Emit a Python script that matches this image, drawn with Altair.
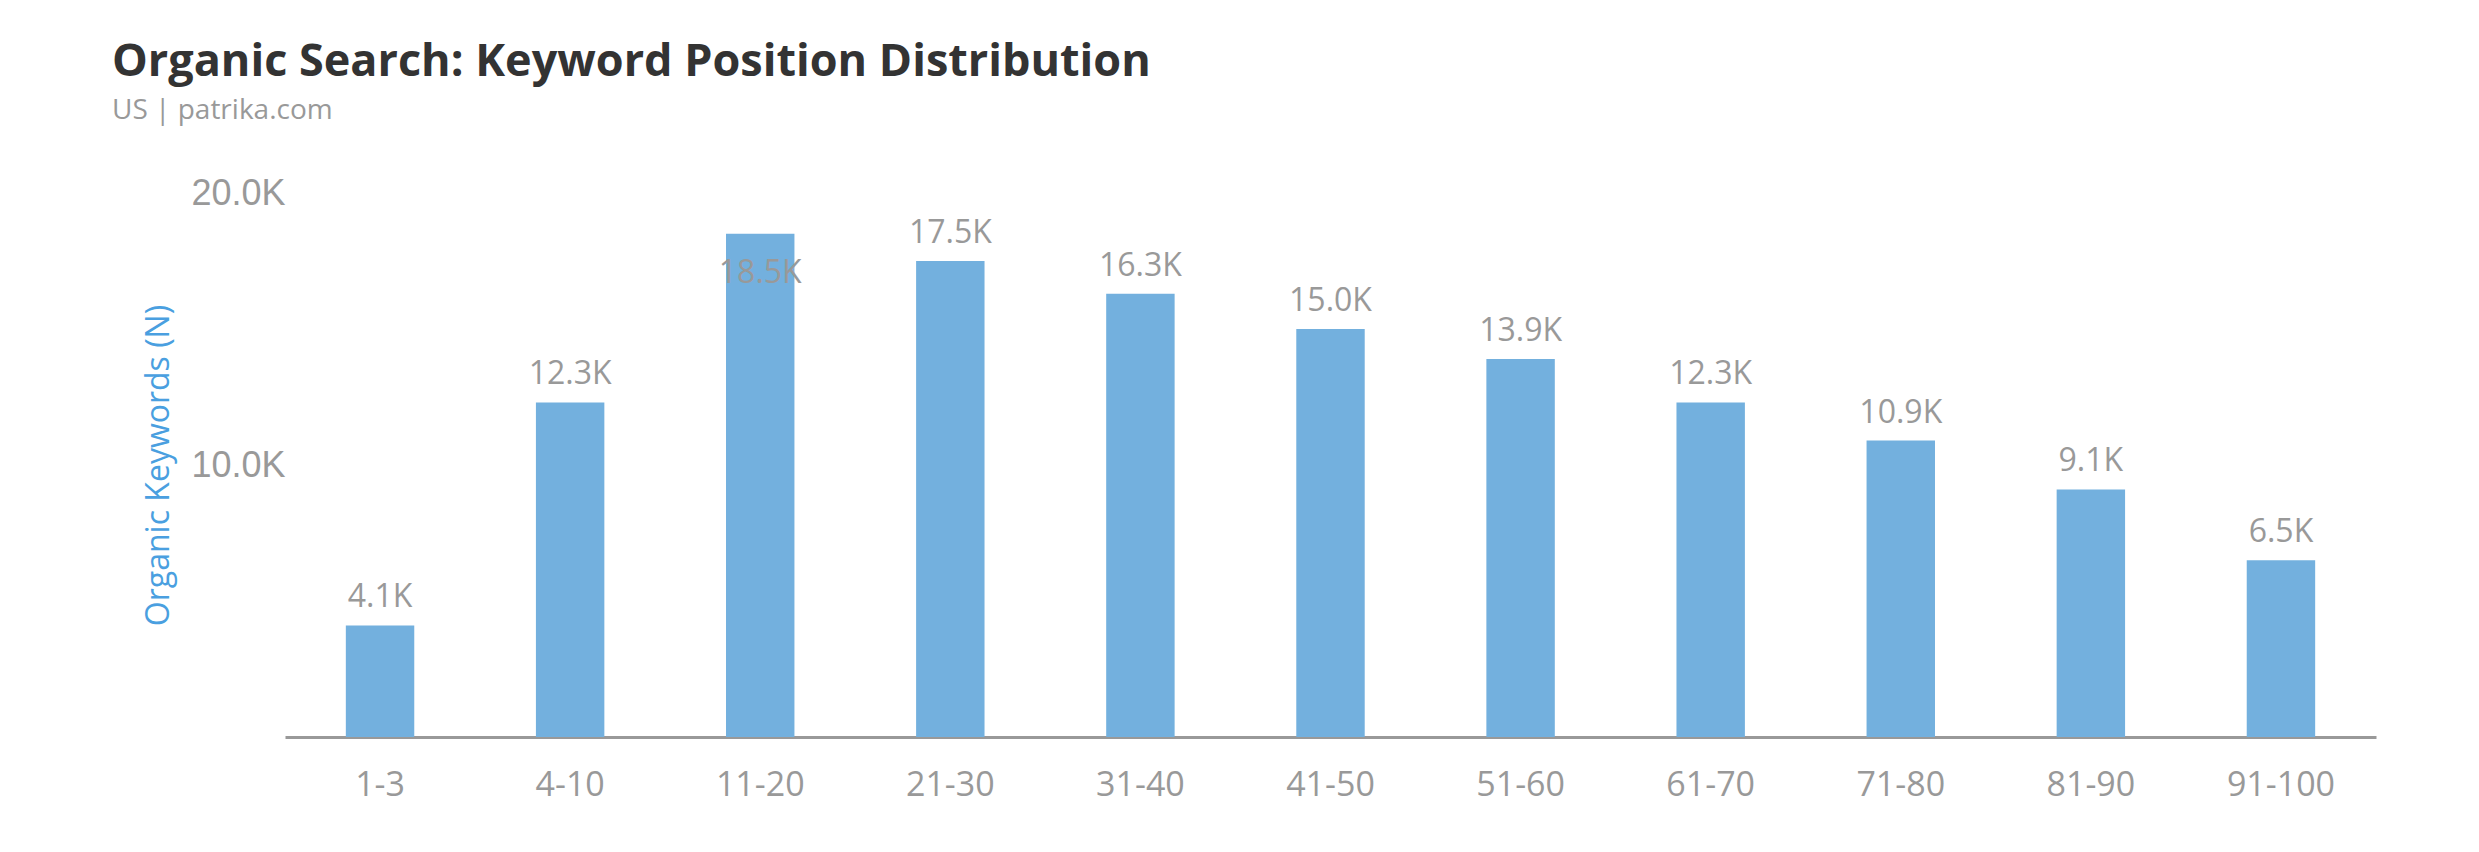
import altair as alt
import pandas as pd

positions = ["1-3", "4-10", "11-20", "21-30", "31-40", "41-50", "51-60", "61-70", "71-80", "81-90", "91-100"]
keywords = [4100, 12300, 18500, 17500, 16300, 15000, 13900, 12300, 10900, 9100, 6500]
y_ticks = [10000, 20000]

df = pd.DataFrame({"position": positions, "keywords": keywords})

GRAY = "#999999"

base = alt.Chart(df).transform_calculate(
    label="format(datum.keywords / 1000, '.1f') + 'K'"
)

x_enc = alt.X(
    "position:N",
    sort=positions,
    title=None,
    scale=alt.Scale(paddingInner=0.64, paddingOuter=0.32),
    axis=alt.Axis(
        labelAngle=0,
        labelFont="Open Sans",
        labelFontSize=34,
        labelColor=GRAY,
        labelPadding=31,
        ticks=False,
        domainColor=GRAY,
        domainWidth=3,
        grid=False,
    ),
)

y_enc = alt.Y(
    "keywords:Q",
    title="Organic Keywords (N)",
    scale=alt.Scale(domain=[0, 20000], nice=False),
    axis=alt.Axis(
        values=y_ticks,
        labelExpr="format(datum.value / 1000, '.1f') + 'K'",
        labelFont="Liberation Sans",
        labelFontSize=36,
        labelColor=GRAY,
        labelPadding=0,
        ticks=False,
        domain=False,
        grid=False,
        titleFont="Open Sans",
        titleFontSize=32,
        titleFontWeight="normal",
        titleColor="#4a9fe0",
        titlePadding=15,
    ),
)

bars = base.mark_bar(color="#73b0de").encode(x=x_enc, y=y_enc)

labels_above = base.transform_filter("datum.keywords < 18000").mark_text(
    font="Open Sans", fontSize=32, color=GRAY, baseline="alphabetic", dy=-18
).encode(x=alt.X("position:N", sort=positions), y="keywords:Q", text="label:N")

labels_inside = base.transform_filter("datum.keywords >= 18000").mark_text(
    font="Open Sans", fontSize=32, color=GRAY, baseline="alphabetic", dy=49
).encode(x=alt.X("position:N", sort=positions), y="keywords:Q", text="label:N")

chart = (
    alt.layer(bars, labels_above, labels_inside)
    .properties(
        width=2091,
        height=544,
        autosize=alt.AutoSizeParams(type="none"),
        padding={"left": 277, "top": 185, "right": 95, "bottom": 100},
        background="white",
        title=alt.Title(
            "Organic Search: Keyword Position Distribution",
            subtitle="US | patrika.com",
            anchor="start",
            frame="group",
            dx=-173,
            font="Open Sans",
            fontSize=45,
            fontWeight="bold",
            color="#333333",
            subtitleFont="Open Sans",
            subtitleFontSize=28,
            subtitleColor=GRAY,
            subtitlePadding=12,
            offset=50,
        ),
    )
    .configure_view(strokeWidth=0, stroke="transparent")
)

chart.save("out.html", embed_options={"renderer": "svg", "actions": False})
